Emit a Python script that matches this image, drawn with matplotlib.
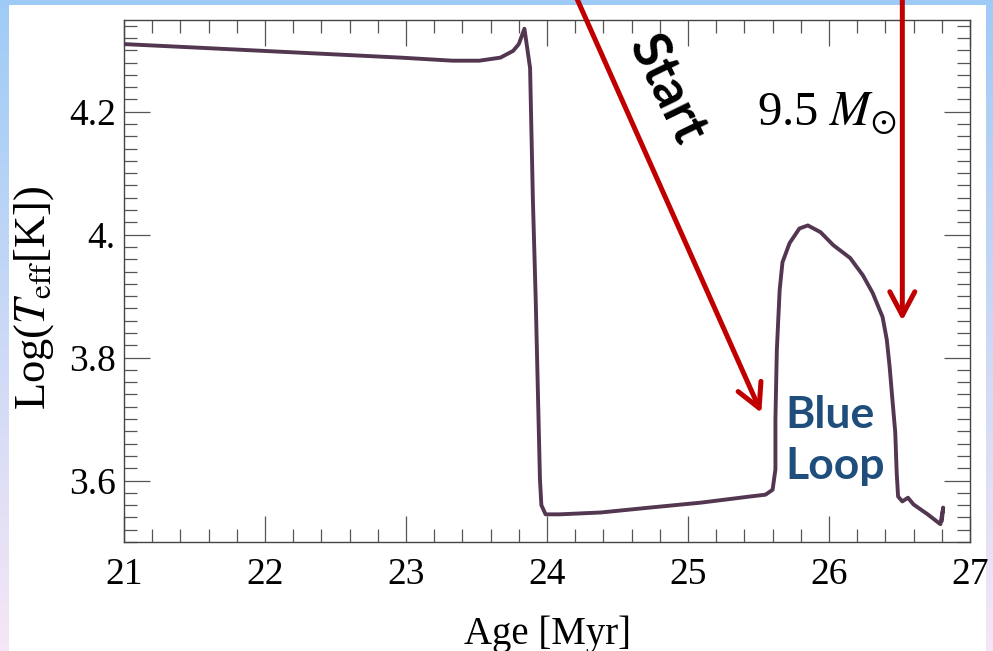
import numpy as np
import matplotlib
matplotlib.use("Agg")
import matplotlib.pyplot as plt
from matplotlib.patches import Rectangle
from matplotlib.ticker import MultipleLocator

plt.rcParams["font.family"] = ["Liberation Serif", "DejaVu Serif"]
plt.rcParams["mathtext.fontset"] = "stix"

# evolutionary track of a 9.5 Msun star
age_myr = [21.00, 21.54, 22.25, 22.96, 23.33, 23.52, 23.67, 23.76, 23.80, 23.84,
           23.88, 23.90, 23.92, 23.95, 23.96, 23.99, 24.09, 24.38, 24.73, 25.09,
           25.44, 25.55, 25.60, 25.62, 25.62, 25.63, 25.65, 25.67, 25.72, 25.79,
           25.85, 25.94, 26.03, 26.15, 26.24, 26.31, 26.38, 26.41, 26.43, 26.45,
           26.47, 26.48, 26.49, 26.52, 26.56, 26.60, 26.70, 26.79, 26.81, 26.80]
log_teff = [4.310, 4.304, 4.296, 4.288, 4.283, 4.283, 4.288, 4.299, 4.310, 4.335,
            4.271, 4.056, 3.894, 3.602, 3.560, 3.545, 3.545, 3.548, 3.556, 3.564,
            3.574, 3.577, 3.585, 3.618, 3.699, 3.812, 3.910, 3.955, 3.986, 4.010,
            4.015, 4.004, 3.983, 3.962, 3.934, 3.905, 3.866, 3.829, 3.785, 3.731,
            3.678, 3.613, 3.574, 3.566, 3.572, 3.561, 3.545, 3.529, 3.556, 3.534]

x_ticks = [21, 22, 23, 24, 25, 26, 27]
y_ticks = [3.6, 3.8, 4.0, 4.2]
y_tick_labels = ["3.6", "3.8", "4.", "4.2"]

W, H = 993, 651
fig = plt.figure(figsize=(W / 100, H / 100), dpi=100)

# slide background: blue-to-pink gradient with a white panel
bg = fig.add_axes([0, 0, 1, 1], zorder=-10)
top = np.array([158, 203, 246]) / 255
bot = np.array([246, 230, 247]) / 255
t = np.linspace(0, 1, 256)[:, None]
grad = (1 - t) * top + t * bot
bg.imshow(grad[:, None, :], aspect="auto", extent=[0, W, H, 0])
bg.add_patch(Rectangle((9, 5), 977, 660, facecolor="white", edgecolor="none"))
bg.set_xlim(0, W)
bg.set_ylim(H, 0)
bg.axis("off")

ax = fig.add_axes([124 / W, 1 - 542 / H, 846 / W, 522.5 / H])
ax.plot(age_myr, log_teff, color="#533650", lw=2.8, solid_joinstyle="round",
        solid_capstyle="round", zorder=3)

ax.set_xlim(21, 27)
ax.set_ylim(3.5, 4.35)
ax.set_xticks(x_ticks)
ax.set_xticklabels([str(v) for v in x_ticks])
ax.set_yticks(y_ticks)
ax.set_yticklabels(y_tick_labels)
ax.xaxis.set_minor_locator(MultipleLocator(0.2))
ax.yaxis.set_minor_locator(MultipleLocator(0.02))
ax.tick_params(which="both", direction="in", top=True, right=True,
               color="#555555", width=0.9, labelsize=27)
ax.tick_params(which="major", length=18.5)
ax.tick_params(which="minor", length=9.5)
ax.tick_params(axis="x", which="major", pad=11)
ax.tick_params(axis="y", which="major", pad=6)
for sp in ax.spines.values():
    sp.set_color("#444444")
    sp.set_linewidth(1.0)

ax.set_xlabel("Age [Myr]", fontsize=28, labelpad=17)
ax.set_ylabel(r"Log($T_{\rm eff}$[K])", fontsize=32)
ax.yaxis.set_label_coords(-0.08, 0.468)

ax.text(25.49, 4.197, r"9.5 $M_{\odot}$", fontsize=35, ha="left", va="center")

ax.text(25.69, 3.665, "Blue\nLoop", fontsize=32, fontweight="bold",
        family=["Lato", "DejaVu Sans"], color="#1f4e7c", ha="left",
        va="center", linespacing=1.32)

ax.text(24.85, 4.235, "Start", fontsize=38, fontweight="bold",
        family=["Lato", "DejaVu Sans"], color="black", rotation=-64,
        ha="center", va="center", rotation_mode="anchor")

red = "#c00000"
arrow_style = "->,head_length=0.85,head_width=0.45"
ax.annotate("", xy=(25.52, 3.71), xytext=(24.21, 4.385),
            arrowprops=dict(arrowstyle=arrow_style, color=red, lw=3.6,
                            mutation_scale=20, shrinkA=0, shrinkB=0),
            annotation_clip=False)
ax.annotate("", xy=(26.52, 3.86), xytext=(26.52, 4.385),
            arrowprops=dict(arrowstyle=arrow_style, color=red, lw=3.6,
                            mutation_scale=20, shrinkA=0, shrinkB=0),
            annotation_clip=False)

fig.savefig("out.png", dpi=100)
